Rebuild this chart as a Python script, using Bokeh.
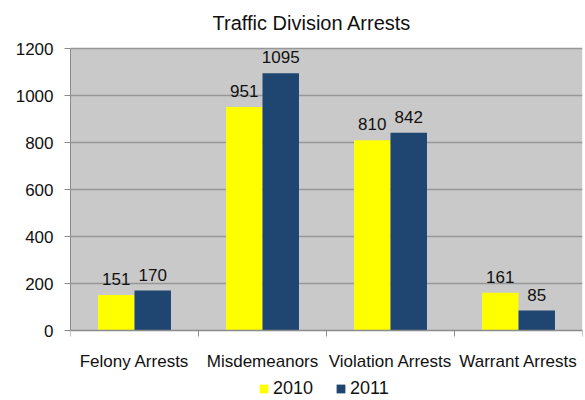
import numpy as np
from bokeh.plotting import figure
from bokeh.models import (Range1d, FixedTicker, Legend, LegendItem, ColumnDataSource,
                          LinearAxis, Grid, BoxAnnotation, Span, Label)
from bokeh.core.properties import value
from bokeh.embed import file_html
from bokeh.resources import INLINE

title = "Traffic Division Arrests"
categories = ["Felony Arrests", "Misdemeanors", "Violation Arrests", "Warrant Arrests"]
series_names = ["2010", "2011"]
values_2010 = [151, 951, 810, 161]
values_2011 = [170, 1095, 842, 85]
y_ticks = [0, 200, 400, 600, 800, 1000, 1200]

FONT = "Liberation Sans"
YELLOW = "#FFFF00"
NAVY = "#1F4571"
BG = "#C9C9C9"
GRID = "#979797"
AXIS = "#8C8C8C"
TXT = "#111111"

# layout (pixels)
W, H = 585, 400
LEFT, RIGHT = 70, 3
PLOT_TOP, PLOT_ZERO = 48, 330

n = len(categories)
centers = np.arange(n) + 0.5
bounds = np.arange(n + 1)
bw = 0.285
y_max = y_ticks[-1]
ppu = (PLOT_ZERO - PLOT_TOP) / y_max          # pixels per unit
y_top = y_max + PLOT_TOP / ppu
y_bot = -(H - PLOT_ZERO) / ppu
def px_to_y(py):
    return (PLOT_ZERO - py) / ppu
def px_to_x(px):
    return (px - LEFT) * n / (W - LEFT - RIGHT)

p = figure(frame_width=W - LEFT - RIGHT, frame_height=H, output_backend="svg",
           toolbar_location=None,
           x_range=Range1d(0, n), y_range=Range1d(y_bot, y_top),
           min_border_left=LEFT, min_border_right=RIGHT, min_border_top=0, min_border_bottom=0,
           x_axis_location=None, y_axis_location=None)
p.background_fill_color = "white"
p.border_fill_color = "white"
p.outline_line_color = None
p.grid.visible = False

# plot area background
p.add_layout(BoxAnnotation(left=0, right=n, bottom=0, top=y_max, fill_color=BG,
                           fill_alpha=1, line_color=None, level="underlay"))
# horizontal gridlines
p.add_layout(Grid(dimension=1, ticker=FixedTicker(ticks=y_ticks[1:]),
                  grid_line_color=GRID, grid_line_width=1.5))
# x axis line
p.add_layout(Span(location=0, dimension="width", line_color=AXIS, line_width=1.5))

# y axis
yax = LinearAxis(ticker=FixedTicker(ticks=y_ticks), bounds=(0, y_max))
yax.axis_line_color = AXIS
yax.major_tick_line_color = AXIS
yax.major_tick_in = 0
yax.major_tick_out = 6
yax.minor_tick_line_color = None
yax.major_label_text_font = FONT
yax.major_label_text_font_size = "17px"
yax.major_label_text_color = TXT
yax.major_label_standoff = 11
p.add_layout(yax, "left")

# category tick marks at boundaries and category labels
p.segment(x0=bounds, y0=0, x1=bounds, y1=-6 / ppu, line_color=AXIS, line_width=1)
p.text(x=centers, y=[0] * n, text=categories, text_align="center",
       text_baseline="middle", y_offset=31, text_font=value(FONT),
       text_font_size="17px", text_color=TXT)

src = ColumnDataSource(dict(x1=centers - bw / 2, x2=centers + bw / 2,
                            v1=values_2010, v2=values_2011,
                            t1=[str(v) for v in values_2010],
                            t2=[str(v) for v in values_2011]))

r1 = p.vbar(x="x1", top="v1", width=bw, bottom=0, source=src,
            fill_color=YELLOW, line_color=None)
r2 = p.vbar(x="x2", top="v2", width=bw, bottom=0, source=src,
            fill_color=NAVY, line_color=None)

for xc, tc in (("x1", "t1"), ("x2", "t2")):
    p.text(x=xc, y="v" + tc[1], text=tc, source=src, text_align="center",
           text_baseline="bottom", y_offset=-10, text_font=value(FONT),
           text_font_size="17px", text_color=TXT)

# title
p.add_layout(Label(x=px_to_x(311.5), y=px_to_y(22), text=title, text_align="center",
                   text_baseline="alphabetic", text_font=FONT, text_font_size="20px",
                   text_color=TXT))

legend = Legend(items=[LegendItem(label=series_names[0], renderers=[r1]),
                       LegendItem(label=series_names[1], renderers=[r2])],
                orientation="horizontal", location=(188, 1))
legend.glyph_width = 11
legend.glyph_height = 11
legend.label_text_font = FONT
legend.label_text_font_size = "18px"
legend.label_text_color = TXT
legend.label_standoff = 4
legend.spacing = 22
legend.padding = 0
legend.margin = 0
legend.border_line_color = None
legend.background_fill_alpha = 0
p.add_layout(legend, "center")

open("out.html", "w").write(file_html(p, INLINE))
